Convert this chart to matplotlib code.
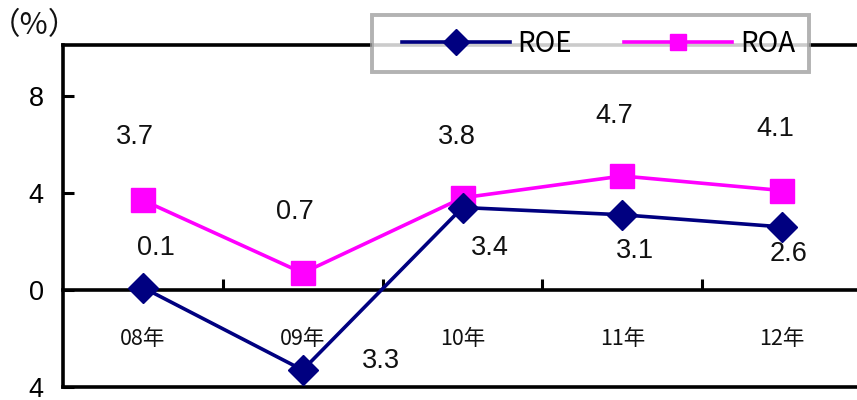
import matplotlib
matplotlib.use("Agg")
import matplotlib.pyplot as plt
from matplotlib.ticker import FixedLocator
from matplotlib.path import Path

# ---- data ----
categories = ["08年", "09年", "10年", "11年", "12年"]
roe = [0.1, -3.3, 3.4, 3.1, 2.6]
roa = [3.7, 0.7, 3.8, 4.7, 4.1]
y_ticks = [-4, 0, 4, 8]
y_tick_labels = ["4", "0", "4", "8"]

# label offsets in pixels (dx, dy) relative to each point
roa_offsets = [(-8, 63), (-8, 61), (-6, 61), (-8, 60), (-7, 62)]
roe_offsets = [(13, 40), (78, 9), (27, -40), (13, -36), (6, -27)]

NUM_FONT = ["Liberation Sans", "DejaVu Sans"]
CJK_FONT = ["Noto Sans CJK JP", "DejaVu Sans"]

fig = plt.figure(figsize=(8.57, 4.0), dpi=100)
ax = fig.add_axes([63 / 857, 13 / 400, 799 / 857, 342 / 400])

x = list(range(len(categories)))
ax.plot(x, roe, color="#000080", lw=2.6, marker="D", markersize=15.5,
        markeredgewidth=1, solid_joinstyle="round", label="ROE", zorder=4, clip_on=False)
ax.plot(x, roa, color="#FF00FF", lw=2.6, marker="s", markersize=17.5,
        markeredgewidth=1, markeredgecolor="#FF00FF", label="ROA", zorder=3, clip_on=False)

ax.set_xlim(-0.5, len(categories) - 0.5)
ax.set_ylim(-4, 10.1)

# spines
for s in ["left", "top", "bottom"]:
    ax.spines[s].set_linewidth(2.6)
ax.spines["right"].set_visible(False)
ax.spines["bottom"].set_position(("data", 0))
ax.axhline(-4, color="black", lw=2.6, clip_on=False, zorder=2)

# y ticks
ax.yaxis.set_major_locator(FixedLocator(y_ticks))
ax.set_yticklabels(y_tick_labels, fontsize=19.5, family=NUM_FONT)
ax.tick_params(axis="y", direction="in", length=8, width=2.2, pad=14)

# x ticks
ax.set_xticks(x)
ax.set_xticklabels(categories, fontsize=15.5, family=CJK_FONT, color="#111111")
ax.tick_params(axis="x", which="major", length=0, pad=27.5)
ax.xaxis.set_minor_locator(FixedLocator([i + 0.5 for i in x[:-1]]))
ax.tick_params(axis="x", which="minor", direction="in", length=8, width=2.2)

# data labels
for i, v in enumerate(roa):
    ax.annotate(f"{abs(v):.1f}", (i, v), xytext=roa_offsets[i], textcoords="offset pixels",
                ha="center", va="center", fontsize=19.5, family=NUM_FONT, color="#111111")
for i, v in enumerate(roe):
    ax.annotate(f"{abs(v):.1f}", (i, v), xytext=roe_offsets[i], textcoords="offset pixels",
                ha="center", va="center", fontsize=19.5, family=NUM_FONT, color="#111111")

# unit label
fig.text(34 / 857, 1 - 26 / 400, "（%）", ha="center", va="center", fontsize=22,
         family=CJK_FONT, color="#111111")

# legend
leg = fig.legend(loc="center", bbox_to_anchor=(598.5 / 857, 1 - 43.5 / 400), ncol=2,
                 prop={"family": CJK_FONT, "size": 20}, frameon=True, fancybox=False,
                 handlelength=3.88, handletextpad=0.29, columnspacing=1.87,
                 borderpad=0.5, borderaxespad=0)
frame = leg.get_frame()
frame.set_edgecolor("#a0a0a0")
frame.set_linewidth(2.8)
leg.set_zorder(10)
for h, ms in zip(leg.legend_handles, [13, 12]):
    h.set_markersize(ms)

EXTRA_LEFT = 16  # extra left padding of legend frame (pixels)


def left_padded_box(x0, y0, width, height, mutation_size):
    xl = x0 - EXTRA_LEFT
    return Path([(xl, y0), (x0 + width, y0), (x0 + width, y0 + height),
                 (xl, y0 + height), (xl, y0)], closed=True)


try:
    frame.set_boxstyle(left_padded_box)
except Exception:
    pass

fig.savefig("out.png", dpi=100)
